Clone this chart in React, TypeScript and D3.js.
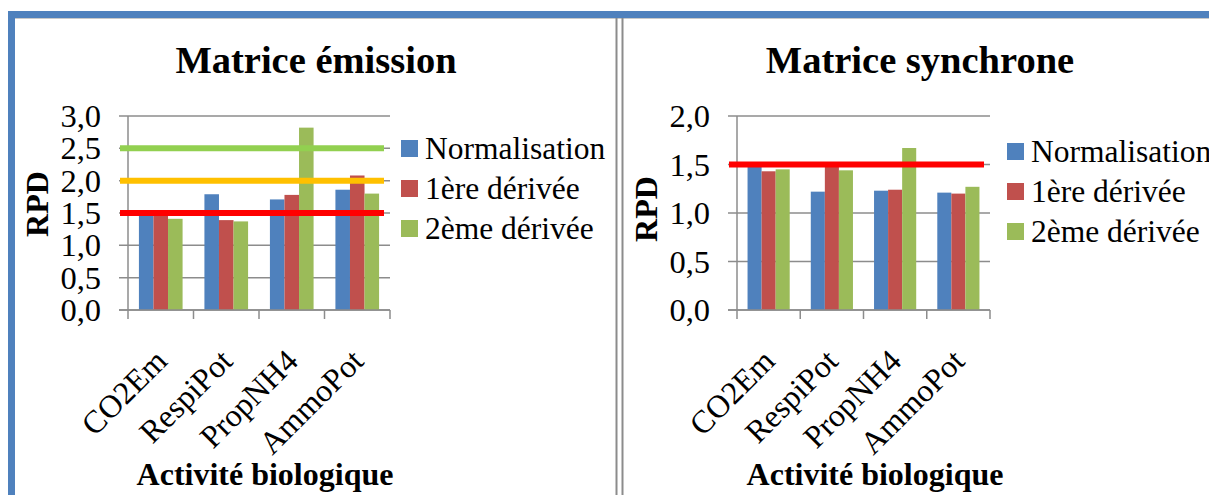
import React from "react";
import * as d3 from "d3";

// Categories and series
const categories = ["CO2Em", "RespiPot", "PropNH4", "AmmoPot"];
const seriesNames = ["Normalisation", "1ère dérivée", "2ème dérivée"];
const seriesColors = ["#4F81BD", "#C0504D", "#9BBB59"];

// RPD values, matrice émission (per series, per category)
const emissionNormalisation = [1.5, 1.79, 1.71, 1.86];
const emissionDerivee1 = [1.52, 1.39, 1.78, 2.08];
const emissionDerivee2 = [1.41, 1.37, 2.82, 1.8];

// RPD values, matrice synchrone
const synchroneNormalisation = [1.49, 1.22, 1.23, 1.21];
const synchroneDerivee1 = [1.43, 1.51, 1.24, 1.2];
const synchroneDerivee2 = [1.45, 1.44, 1.67, 1.27];

// Y axis ticks
const emissionTicks = [0, 0.5, 1, 1.5, 2, 2.5, 3];
const synchroneTicks = [0, 0.5, 1, 1.5, 2];

// Reference thresholds
const emissionThresholds = [
  { value: 2.5, color: "#92D050" },
  { value: 2.0, color: "#FFC000" },
  { value: 1.5, color: "#FF0000" },
];
const synchroneThresholds = [{ value: 1.5, color: "#FF0000" }];

const fmt = (v: number) => d3.format(".1f")(v).replace(".", ",");
const SERIF = "'Liberation Serif', 'Times New Roman', serif";

type PanelProps = {
  title: string;
  values: number[][];
  yMax: number;
  ticks: number[];
  thresholds: { value: number; color: string }[];
  left: number;
  right: number;
  titleX: number;
  axisTitleX: number;
  rpdX: number;
  rpdY: number;
  legendX: number;
  legendY: number;
};

function Panel(p: PanelProps) {
  const top = 116;
  const bottom = 310;
  const y = d3.scaleLinear().domain([0, p.yMax]).range([bottom, top]);
  const x = d3.scaleBand<string>().domain(categories).range([p.left, p.right]).paddingInner(0).paddingOuter(0);
  const bw = x.bandwidth();
  const barW = bw / 4.5;
  const inner = d3
    .scaleBand<string>()
    .domain(seriesNames)
    .range([(bw - 3 * barW) / 2, (bw + 3 * barW) / 2]);
  const grid = "#8C8C8C";

  return (
    <g>
      <text x={p.titleX} y={73} textAnchor="middle" fontFamily={SERIF} fontWeight="bold" fontSize={38.5}>
        {p.title}
      </text>
      {/* gridlines and y ticks */}
      {p.ticks.map((t) => (
        <g key={t}>
          <line x1={p.left - 9} x2={p.right} y1={y(t)} y2={y(t)} stroke={grid} strokeWidth={1.5} />
          <text x={p.left - 27} y={y(t)} dy="0.34em" textAnchor="end" fontFamily={SERIF} fontSize={32.5}>
            {fmt(t)}
          </text>
        </g>
      ))}
      {/* bars */}
      {seriesNames.map((s, si) =>
        categories.map((c, ci) => {
          const v = p.values[si][ci];
          return (
            <rect
              key={s + c}
              x={(x(c) as number) + (inner(s) as number)}
              y={y(v)}
              width={inner.bandwidth()}
              height={bottom - y(v)}
              fill={seriesColors[si]}
            />
          );
        })
      )}
      {/* axes */}
      <line x1={p.left} x2={p.left} y1={top} y2={bottom} stroke={grid} strokeWidth={1.5} />
      <line x1={p.left - 9} x2={p.right} y1={bottom} y2={bottom} stroke={grid} strokeWidth={1.5} />
      {[...categories.map((c) => x(c) as number), p.right].map((tx, i) => (
        <line key={i} x1={tx} x2={tx} y1={bottom} y2={bottom + 9} stroke={grid} strokeWidth={1.5} />
      ))}
      {/* thresholds */}
      {p.thresholds.map((th) => (
        <line
          key={th.color}
          x1={p.left - 8}
          x2={p.right - 6}
          y1={y(th.value)}
          y2={y(th.value)}
          stroke={th.color}
          strokeWidth={6}
        />
      ))}
      {/* category labels */}
      {categories.map((c) => {
        const cx = (x(c) as number) + bw / 2 + 8;
        return (
          <text
            key={c}
            transform={`translate(${cx},${bottom + 53}) rotate(-45)`}
            textAnchor="end"
            fontFamily={SERIF}
            fontSize={32}
          >
            {c}
          </text>
        );
      })}
      <text x={p.axisTitleX} y={485} textAnchor="middle" fontFamily={SERIF} fontWeight="bold" fontSize={32}>
        Activité biologique
      </text>
      <text
        transform={`translate(${p.rpdX},${p.rpdY}) rotate(-90)`}
        textAnchor="middle"
        fontFamily={SERIF}
        fontWeight="bold"
        fontSize={32}
      >
        RPD
      </text>
      {/* legend */}
      {seriesNames.map((s, i) => (
        <g key={s} transform={`translate(${p.legendX},${p.legendY + i * 40})`}>
          <rect x={0} y={-8} width={17} height={17} fill={seriesColors[i]} />
          <text x={24} y={0} dy="0.34em" fontFamily={SERIF} fontSize={31.5}>
            {s}
          </text>
        </g>
      ))}
    </g>
  );
}

export default function App() {
  return (
    <svg width={1209} height={495} style={{ position: "absolute", left: 0, top: 0, background: "#fff" }}>
      {/* frame */}
      <rect x={0} y={0} width={1209} height={495} fill="#fff" />
      <rect x={8} y={11} width={1201} height={7} fill="#4F81BD" />
      <rect x={8} y={11} width={7} height={484} fill="#4F81BD" />
      <line x1={15} x2={1209} y1={18.5} y2={18.5} stroke="#C8C8C8" strokeWidth={1} />
      <line x1={616.5} x2={616.5} y1={18} y2={495} stroke="#8C8C8C" strokeWidth={2} />
      <line x1={622.5} x2={622.5} y1={18} y2={495} stroke="#8C8C8C" strokeWidth={2} />
      <Panel
        title="Matrice émission"
        values={[emissionNormalisation, emissionDerivee1, emissionDerivee2]}
        yMax={3}
        ticks={emissionTicks}
        thresholds={emissionThresholds}
        left={128}
        right={390}
        titleX={316}
        axisTitleX={265}
        rpdX={48}
        rpdY={204}
        legendX={401}
        legendY={148}
      />
      <Panel
        title="Matrice synchrone"
        values={[synchroneNormalisation, synchroneDerivee1, synchroneDerivee2]}
        yMax={2}
        ticks={synchroneTicks}
        thresholds={synchroneThresholds}
        left={737}
        right={990}
        titleX={920}
        axisTitleX={875}
        rpdX={657}
        rpdY={209}
        legendX={1007}
        legendY={151}
      />
    </svg>
  );
}
